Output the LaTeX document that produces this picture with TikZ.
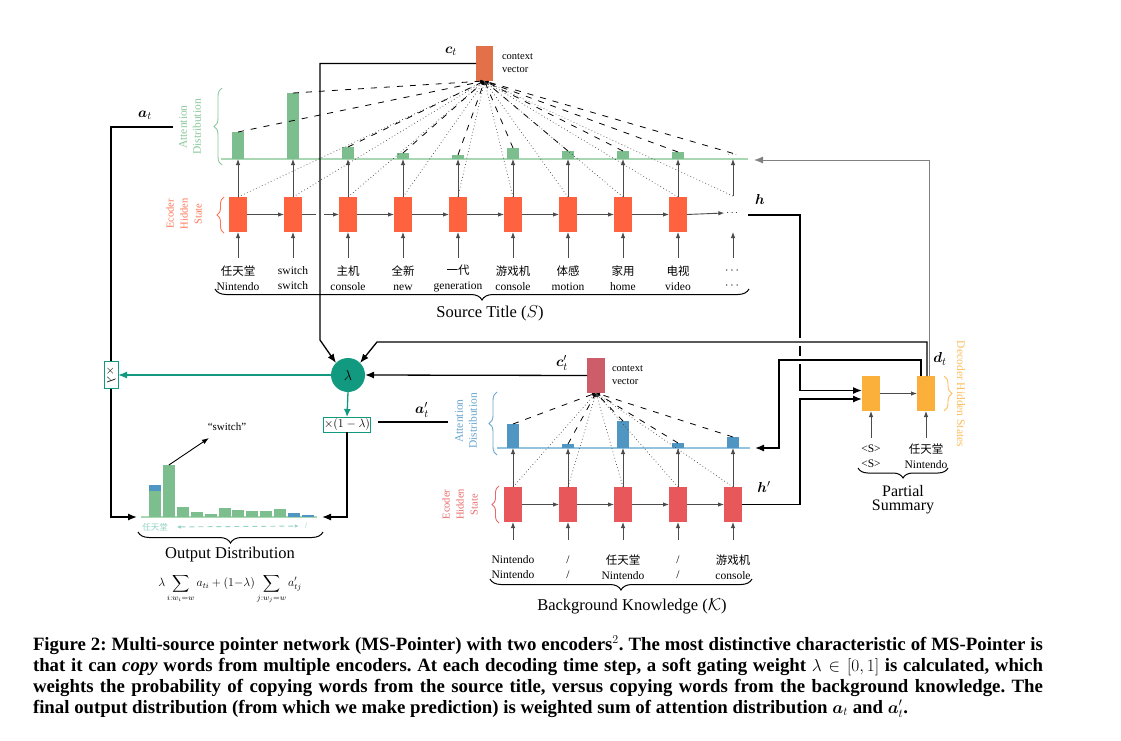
\documentclass[tikz,border=0pt]{standalone}
\usepackage{amsmath}
\usepackage{fontspec}
\setmainfont{Liberation Serif}
\newfontfamily\cjk{Noto Sans CJK SC}
\usetikzlibrary{arrows.meta,decorations.pathreplacing,calc}
\definecolor{encA}{HTML}{FF623E}
\definecolor{encAt}{HTML}{FF7656}
\definecolor{ctxA}{HTML}{E27049}
\definecolor{attG}{HTML}{7DBE8E}
\definecolor{attGt}{HTML}{8CC89C}
\definecolor{attGl}{HTML}{A9D6B3}
\definecolor{encB}{HTML}{E8575A}
\definecolor{encBt}{HTML}{E96A6A}
\definecolor{ctxB}{HTML}{CD5E69}
\definecolor{attB}{HTML}{5096C3}
\definecolor{attBt}{HTML}{6AA6CF}
\definecolor{attBl}{HTML}{92C4DF}
\definecolor{dec}{HTML}{FBB03C}
\definecolor{decT}{HTML}{FDBE5E}
\definecolor{tealc}{HTML}{119A7F}
\tikzset{
  hbox/.style={minimum width=18pt, minimum height=35pt, inner sep=0pt},
  attbar/.style={minimum width=12pt, inner sep=0pt, anchor=south},
  tipL/.style={-{Latex[length=9pt,width=7pt]}},
  conn/.style={draw=black, line width=1.3pt},
  varr/.style={draw=black!70, line width=0.9pt, -{Latex[length=6pt,width=4.5pt]}},
  dashl/.style={draw=black, line width=0.8pt, dash pattern=on 6pt off 7pt, -{Latex[length=4pt,width=3pt]}},
  dotl/.style={draw=black!75, line width=0.7pt, dash pattern=on 0.7pt off 2.6pt, -{Latex[length=4pt,width=3pt]}},
  word/.style={align=center, font=\fontsize{11.5}{15}\selectfont},
  brc/.style={decorate, decoration={brace, amplitude=#1}},
  brc/.default=9pt,
  big/.style={font=\fontsize{16.5}{18}\selectfont},
  lbl/.style={font=\fontsize{15}{15}\selectfont},
  capline/.style={anchor=base west, font=\bfseries\fontsize{18.8}{21}\selectfont},
}
\frenchspacing
\begin{document}
\begin{tikzpicture}[x=1pt,y=-1pt, every node/.style={inner sep=0pt, outer sep=0pt}]
\fill[white] (0,0) rectangle (1121,741);
\useasboundingbox (0,0) rectangle (1121,741);

% ================= top encoder (source title) =================
\node[fill=ctxA, minimum width=17pt, minimum height=35pt] (ct) at (484.5,63.5) {};
\node[lbl] (ctl) at (451,51) {$\boldsymbol{c}_t$};
\node[align=left, anchor=west, font=\fontsize{10.5}{13}\selectfont] (ctt) at (502,63.5) {context\\vector};

\coordinate (tbl) at (221,159);
\coordinate (tbr) at (748,159);
\draw[attGl, line width=1.3pt] (tbl) -- (tbr);

\foreach \i/\x/\tp in {1/238/132,2/293/93,3/348/147,4/403/153,5/458/155,6/513/148,7/568/151,8/623/151,9/678/152}{
  \node[hbox, fill=encA] (te\i) at (\x,214.5) {};
  \pgfmathsetmacro{\hh}{159-\tp}
  \node[attbar, fill=attG, minimum height=\hh pt] (ta\i) at (\x,159) {};
}
\node (tdh) at (733,213) {$\cdots$};
\node[font=\fontsize{7}{7}\selectfont] (tda) at (733,155) {$\cdots$};
\coordinate (tdtop) at (733,196);
\coordinate (tdbot) at (733,232);

\node[word] (tw1) at (238,278) {{\cjk 任天堂}\\Nintendo};
\node[word] (tw2) at (293,278) {switch\\switch};
\node[word] (tw3) at (348,278) {{\cjk 主机}\\console};
\node[word] (tw4) at (403,278) {{\cjk 全新}\\new};
\node[word] (tw5) at (458,278) {{\cjk 一代}\\generation};
\node[word] (tw6) at (513,278) {{\cjk 游戏机}\\console};
\node[word] (tw7) at (568,278) {{\cjk 体感}\\motion};
\node[word] (tw8) at (623,278) {{\cjk 家用}\\home};
\node[word] (tw9) at (678,278) {{\cjk 电视}\\video};
\node[word] (tw10) at (733,278) {$\cdots$\\$\cdots$};

\foreach \i in {1,...,9}{
  \draw[varr] ($(te\i.south)+(0,26)$) -- (te\i.south);
  \draw[varr] (te\i.north) -- (te\i.north |- tbl);
}
\draw[varr] ($(tdbot)+(0,26)$) -- (tdbot);
\draw[varr] (tdtop) -- (tdtop |- tbl);
\foreach \i/\j in {1/2,2/3,3/4,4/5,5/6,6/7,7/8,8/9}{
  \draw[varr] (te\i.east) -- (te\j.west);
}
\draw[varr] (te9.east) -- ($(tdh.west)+(-2,0)$);

\foreach \i in {1,...,9}{
  \draw[dotl] (te\i.north) -- (ct.south);
  \draw[dashl] (ta\i.north) -- (ct.south);
}
\draw[dotl] (tdtop) -- (ct.south);
\draw[dashl] (tda.north) -- (ct.south);

\node[rotate=90, align=center, text=attGt, font=\fontsize{11.5}{14}\selectfont] (tatt) at (190,127) {Attention\\Distribution};
\draw[attGt, line width=0.9pt, brc=8pt] (222,165) -- (222,88);
\node[rotate=90, align=center, text=encAt, font=\fontsize{10.5}{14}\selectfont] (tenc) at (184,214) {Ecoder\\Hidden\\State};
\draw[encAt, line width=0.9pt, brc=7pt] (224,233) -- (224,197);

\draw[line width=1pt, brc=11pt] (749,289) -- (215,289);
\node[big] (stl) at (490,313) {Source Title ($S$)};

% ================= lambda gate =================
\node[circle, fill=tealc, minimum size=34pt] (lam) at (348,375) {\fontsize{15}{15}\selectfont$\lambda$};
\coordinate (lamV) at (320,340);
\fill[white] (316,211.5) rectangle (324,217.5);
\draw[conn, tipL] (ct.west) -| (lamV) -- (lam.135);

% ================= decoder =================
\node[hbox, fill=dec] (d1) at (871,393.5) {};
\node[hbox, fill=dec] (d2) at (926,393.5) {};
\draw[varr] (d1.east) -- (d2.west);
\node[word] (dw1) at (871,456.5) {\textless S\textgreater\\\textless S\textgreater};
\node[word] (dw2) at (926,456.5) {{\cjk 任天堂}\\Nintendo};
\draw[varr] ($(d1.south)+(0,27)$) -- (d1.south);
\draw[varr] ($(d2.south)+(0,27)$) -- (d2.south);
\draw[line width=1pt, brc=10pt] (948,468) -- (858,468);
\node[align=center, font=\fontsize{16}{14}\selectfont] (psum) at (903,500) {Partial\\Summary};
\node[rotate=-90, text=decT, font=\fontsize{11.5}{14}\selectfont] (dhs) at (961,394) {Decoder Hidden States};
\draw[decT, line width=0.9pt, brc=8pt] (944,376) -- (944,411);
\node[lbl] (dtl) at (940,359) {$\boldsymbol{d}_t$};

% ================= bottom encoder (background knowledge) =================
\node[fill=ctxB, minimum width=18pt, minimum height=35pt] (ctb) at (596,375.5) {};
\node[lbl] (ctbl) at (562,363) {$\boldsymbol{c}'_t$};
\node[align=left, anchor=west, font=\fontsize{10.5}{13}\selectfont] (ctbt) at (612,375) {context\\vector};

\coordinate (bbl) at (497,448);
\coordinate (bbr) at (750,448);
\draw[attBl, line width=1.3pt] (bbl) -- (bbr);
\foreach \i/\x/\tp in {1/513/424,2/568/444,3/623/421,4/678/443,5/733/437}{
  \node[hbox, fill=encB] (eb\i) at (\x,504.5) {};
  \pgfmathsetmacro{\hh}{448-\tp}
  \node[attbar, fill=attB, minimum height=\hh pt] (bb\i) at (\x,448) {};
}
\node[word] (bw1) at (513,567) {Nintendo\\Nintendo};
\node[word] (bw2) at (568,567) {/\\/};
\node[word] (bw3) at (623,567) {{\cjk 任天堂}\\Nintendo};
\node[word] (bw4) at (678,567) {/\\/};
\node[word] (bw5) at (733,567) {{\cjk 游戏机}\\console};
\foreach \i in {1,...,5}{
  \draw[varr] ($(eb\i.south)+(0,18)$) -- (eb\i.south);
  \draw[varr] (eb\i.north) -- (eb\i.north |- bbl);
  \draw[dotl] (eb\i.north) -- (ctb.south);
  \draw[dashl] (bb\i.north) -- (ctb.south);
}
\foreach \i/\j in {1/2,2/3,3/4,4/5}{
  \draw[varr] (eb\i.east) -- (eb\j.west);
}
\node[rotate=90, align=center, text=attBt, font=\fontsize{11.5}{14}\selectfont] (batt) at (466,421) {Attention\\Distribution};
\draw[attBt, line width=0.9pt, brc=8pt] (497,455) -- (497,392);
\node[rotate=90, align=center, text=encBt, font=\fontsize{10.5}{14}\selectfont] (benc) at (460,504.5) {Ecoder\\Hidden\\State};
\draw[encBt, line width=0.9pt, brc=7pt] (499,523) -- (499,486);
\draw[line width=1pt, brc=11pt] (752,579) -- (490,579);
\node[big] (bkl) at (632,606) {Background Knowledge ($\mathcal{K}$)};

% ================= connections on the right =================
\coordinate (hS) at (748,215);
\node[lbl] (hl) at (760,199) {$\boldsymbol{h}$};
\node[lbl] (hpl) at (764,487) {$\boldsymbol{h}'$};
\draw[conn, tipL] (hS) -| ($(d1.west)+(-62,-3)$) -- ($(d1.west)+(0,-3)$);
\draw[conn, tipL] (eb5.east) -| ($(d1.west)+(-62,5.5)$) -- ($(d1.west)+(0,5.5)$);
\fill[white] (796.5,338) rectangle (803.5,346);
\fill[white] (796.5,356) rectangle (803.5,364);
\coordinate (lamK) at (377,342);
\draw[conn, tipL] ($(d2.north)+(1,0)$) |- (lamK) -- (lam.45);
\coordinate (bK) at (779,360);
\draw[conn, tipL] ($(d2.north)+(-5,0)$) |- (bK) |- ($(bbr)+(5,0)$);
\draw[draw=black!50, line width=1pt, tipL] ($(d2.north)+(3,0)$) |- ($(tbr)+(6,1)$);
\draw[conn, tipL] (ctb.west) -- (lam.east);

% a'_t
\coordinate (apS) at (448,422);
\coordinate (apE) at (378,422);
\draw[conn] (apS) -- (apE);
\node[lbl] (apl) at (422,410) {$\boldsymbol{a}'_t$};

% ================= output distribution =================
\coordinate (obl) at (141,517);
\coordinate (obr) at (317,517);
\coordinate (atS) at (173,127);
\coordinate (atK) at (111,517);
\node[lbl] (atl) at (145,115) {$\boldsymbol{a}_t$};
\draw[conn, tipL] (atS) -| (atK) -- ($(obl)+(-4,0)$);
\node[draw=tealc, fill=white, line width=1pt, rotate=-90, minimum width=27pt, minimum height=14pt, font=\fontsize{12}{12}\selectfont] (xl) at (111,375) {$\times\lambda$};
\draw[tealc, line width=1.3pt, tipL] (lam.west) -- (xl);
\node[draw=tealc, fill=white, line width=1pt, inner xsep=1pt, inner ysep=1.5pt, font=\fontsize{11.5}{12}\selectfont] (x1m) at (347,424.5) {$\times(1-\lambda)$};
\draw[tealc, line width=1.3pt, -{Latex[length=8pt,width=7pt]}] (lam.south) -- (x1m.north);
\draw[conn, tipL] (x1m.south) |- ($(obr)+(5,0)$);

\draw[attGl, line width=1.2pt] (obl) -- (obr);
\foreach \i/\tp/\c in {1/491/attG,2/465/attG,3/507/attG,4/512/attG,5/514/attG,6/508/attG,7/510/attG,8/511/attG,9/511/attG,10/509/attG,11/513/attB,12/515/attB}{
  \pgfmathsetmacro{\hh}{517-\tp}
  \node[attbar, fill=\c, minimum height=\hh pt] (ob\i) at ({155+13.9*(\i-1)},517) {};
}
\node[attbar, fill=attB, minimum height=6pt] (ob1c) at (ob1.north) {};
\node[font=\fontsize{11}{11}\selectfont] (sw) at (227,427) {``switch''};
\coordinate (swT) at (209,438);
\draw[line width=0.9pt, -{Latex[length=7pt,width=5pt]}] (ob2.north) -- (swT);

\node[text=tealc!45, font=\fontsize{8.5}{9}\selectfont] (o1) at (155,527) {\cjk 任天堂};
\node[text=tealc!45, font=\fontsize{9}{9}\selectfont] (o2) at (306,526) {/};
\draw[tealc!45, line width=0.9pt, dash pattern=on 5pt off 4pt, {Latex[length=4pt,width=3.5pt]}-{Latex[length=4pt,width=3.5pt]}, shorten <=9pt, shorten >=6pt] (o1.east) -- (o2.west);
\draw[line width=1pt, brc=11pt] (323,532) -- (138,532);
\node[big] (odl) at (230,555) {Output Distribution};
\node[font=\fontsize{12}{14}\selectfont] (form) at (230,589) {$\displaystyle \lambda \sum_{i:w_i=w} a_{ti} + (1{-}\lambda) \sum_{j:w_j=w} a'_{tj}$};

% ================= caption =================
\node[capline] (cap1) at (33,650) {\makebox[1010pt][s]{Figure 2: Multi-source pointer network (MS-Pointer) with two encoders$^2$. The most distinctive characteristic of MS-Pointer is}};
\node[capline] (cap2) at (33,671) {\makebox[1010pt][s]{that it can \textit{copy} words from multiple encoders. At each decoding time step, a soft gating weight $\lambda \in [0,1]$ is calculated, which}};
\node[capline] (cap3) at (33,692) {\makebox[1010pt][s]{weights the probability of copying words from the source title, versus copying words from the background knowledge. The}};
\node[capline] (cap4) at (33,713) {final output distribution (from which we make prediction) is weighted sum of attention distribution $\boldsymbol{a}_t$ and $\boldsymbol{a}'_t$.};
\end{tikzpicture}
\end{document}
